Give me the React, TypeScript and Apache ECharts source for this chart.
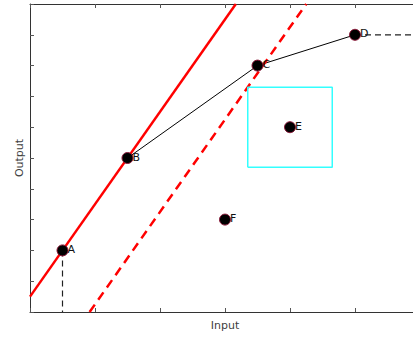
import React, { useEffect, useRef } from "react";
import * as echarts from "echarts";

// Labelled points
const pointNames = ["A", "B", "C", "D", "E", "F"];
const pointX = [0.5, 1.5, 3.5, 5, 4, 3];
const pointY = [2, 5, 8, 9, 6, 3];

// Piecewise path through A, B, C, D
const pathNames = ["A", "B", "C", "D"];

// Red solid and dashed reference lines (end points)
const solidRedX = [0, 3.1667];
const solidRedY = [0.5, 10];
const dashedRedX = [0.917, 4.25];
const dashedRedY = [0, 10];

// Box around E
const boxX = [3.35, 4.65];
const boxY = [4.7, 7.3];

// Dashed guides
const guideDX = [5, 6];
const guideDY = [9, 9];
const guideAX = [0.5, 0.5];
const guideAY = [2, 0];

// The x range runs past the right edge of the frame
const xRange = [0, 5.8923];
const yRange = [0, 10];

const pairs = (xs: number[], ys: number[]) => xs.map((x, i) => [x, ys[i]]);

export default function App() {
  const ref = useRef<HTMLDivElement>(null);
  useEffect(() => {
    if (!ref.current) return;
    const chart = echarts.init(ref.current, undefined, { renderer: "svg" });
    const font = "'DejaVu Sans', sans-serif";
    const axisColor = "#333";
    const baseX = {
      type: "value" as const,
      min: xRange[0],
      max: xRange[1],
      interval: 1,
      axisLine: { show: true, lineStyle: { color: axisColor, width: 1 } },
      axisTick: { show: true, inside: true, length: 4, lineStyle: { color: "#555" } },
      axisLabel: { show: false },
      splitLine: { show: false },
    };
    const pathData = pathNames.map((n) => {
      const i = pointNames.indexOf(n);
      return [pointX[i], pointY[i]];
    });
    const box = [
      [boxX[0], boxY[0]],
      [boxX[1], boxY[0]],
      [boxX[1], boxY[1]],
      [boxX[0], boxY[1]],
      [boxX[0], boxY[0]],
    ];
    chart.setOption({
      animation: false,
      backgroundColor: "#fff",
      grid: { left: 30, right: 0, top: 4, bottom: 29 },
      xAxis: [
        {
          ...baseX,
          position: "bottom",
          name: "Input",
          nameLocation: "middle",
          nameGap: 8,
          nameTextStyle: {
            fontFamily: font,
            fontSize: 11,
            color: "#404040",
            padding: [0, 0, 0, 7],
          },
        },
        { ...baseX, position: "top" },
      ],
      yAxis: {
        type: "value",
        min: yRange[0],
        max: yRange[1],
        interval: 1,
        name: "Output",
        nameLocation: "middle",
        nameGap: 5,
        nameRotate: 90,
        nameTextStyle: { fontFamily: font, fontSize: 11, color: "#404040" },
        axisLine: { show: true, lineStyle: { color: axisColor, width: 1 } },
        axisTick: { show: true, inside: true, length: 4, lineStyle: { color: "#555" } },
        axisLabel: { show: false },
        splitLine: { show: false },
      },
      series: [
        {
          type: "line",
          data: pathData,
          symbol: "none",
          lineStyle: { color: "#000", width: 1 },
        },
        {
          type: "line",
          data: pairs(solidRedX, solidRedY),
          symbol: "none",
          lineStyle: { color: "#ff0000", width: 2.5 },
        },
        {
          type: "line",
          data: pairs(dashedRedX, dashedRedY),
          symbol: "none",
          lineStyle: { color: "#ff0000", width: 2.5, type: [9, 6] },
        },
        {
          type: "line",
          data: box,
          symbol: "none",
          lineStyle: { color: "#33ffff", width: 1.5 },
        },
        {
          type: "line",
          data: pairs(guideDX, guideDY),
          symbol: "none",
          lineStyle: { color: "#222", width: 1.2, type: [6, 4] },
        },
        {
          type: "line",
          data: pairs(guideAX, guideAY),
          symbol: "none",
          lineStyle: { color: "#222", width: 1.2, type: [6, 4] },
        },
        {
          type: "scatter",
          data: pointNames.map((n, i) => ({ name: n, value: [pointX[i], pointY[i]] })),
          symbol: "circle",
          symbolSize: 11,
          itemStyle: { color: "#000", borderColor: "#8b1a3a", borderWidth: 1, opacity: 1 },
          label: {
            show: true,
            position: "right",
            distance: -1,
            formatter: (p: any) => p.name,
            fontFamily: font,
            fontSize: 11,
            color: "#111",
            offset: [0, -1],
          },
          z: 5,
        },
      ],
    });
    return () => chart.dispose();
  }, []);
  return (
    <div
      ref={ref}
      style={{ position: "absolute", left: 0, top: 0, width: 413, height: 341 }}
    />
  );
}
